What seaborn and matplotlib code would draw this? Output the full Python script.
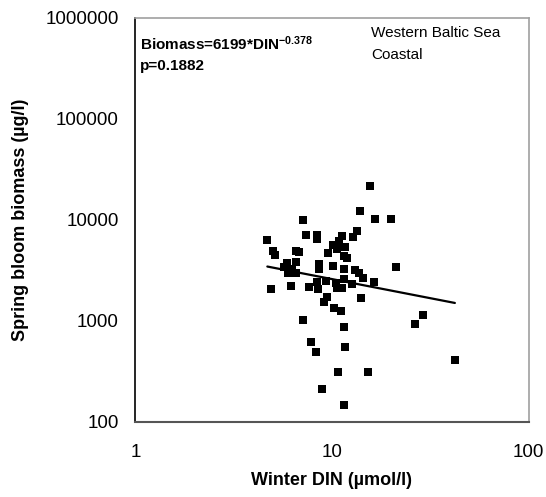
import numpy as np
import pandas as pd
import matplotlib
matplotlib.use("Agg")
import matplotlib.pyplot as plt
import matplotlib.ticker as mticker
import seaborn as sns

# Winter DIN (µmol/l) and spring bloom biomass (µg/l), Western Baltic Sea coastal stations
din = [4.69, 4.87, 5.03, 5.11, 5.71, 5.90, 5.97, 6.23, 6.58, 6.21,
       6.60, 6.76, 6.60, 7.11, 7.11, 7.39, 7.62, 7.84, 8.32, 8.37,
       8.37, 8.37, 8.54, 8.57, 8.57, 8.95, 9.16, 9.35, 9.46, 9.60,
       10.14, 10.14, 10.3, 10.66, 10.54, 10.63, 10.75, 10.83, 11.09, 11.24,
       11.24, 11.53, 11.89, 11.53, 11.53, 11.53, 11.53, 11.71, 11.71, 12.60,
       12.76, 13.16, 13.36, 13.79, 13.96, 14.12, 14.33, 15.20, 15.63, 16.30,
       16.57, 19.98, 21.13, 26.6, 28.9, 42.2]
biomass = [6340, 2060, 4970, 4470, 3425, 3730, 2990, 3250, 2970, 2240,
           4930, 4790, 3810, 9930, 1016, 7060, 2170, 612, 490, 7100,
           6440, 2450, 2060, 3665, 3250, 211, 1543, 2490, 1740, 4680,
           5620, 3480, 1345, 5160, 2360, 2100, 313, 6150, 1265, 6900,
           2130, 4350, 4205, 3270, 2575, 863, 146, 5370, 547, 2310,
           6840, 3200, 7690, 2970, 12360, 1690, 2650, 313, 21700, 2430,
           10160, 10160, 3400, 934, 1134, 414]

# Power-law fit: Biomass = a * DIN^b
fit_a = 6199
fit_b = -0.378
fit_p = 0.1882

x_ticks = [1, 10, 100]
y_ticks = [100, 1000, 10000, 100000, 1000000]

sns.set_style("white")
plt.rcParams["font.family"] = ["Liberation Sans", "DejaVu Sans"]
plt.rcParams["text.color"] = "black"
plt.rcParams["axes.labelcolor"] = "black"
plt.rcParams["mathtext.fontset"] = "custom"
plt.rcParams["mathtext.rm"] = "Liberation Sans:bold"
plt.rcParams["mathtext.bf"] = "Liberation Sans:bold"
plt.rcParams["mathtext.it"] = "Liberation Sans:bold"

fig = plt.figure(figsize=(5.46, 4.97), dpi=100)
ax = fig.add_axes([0.248, 0.151, 0.72, 0.813])

df = pd.DataFrame({"DIN": din, "Biomass": biomass})
sns.scatterplot(data=df, x="DIN", y="Biomass", ax=ax, marker="s", s=26,
                color="black", linewidth=0, zorder=3)

fit_x = np.geomspace(min(din), max(din), 50)
fit_df = pd.DataFrame({"DIN": fit_x, "Biomass": fit_a * fit_x ** fit_b})
sns.lineplot(data=fit_df, x="DIN", y="Biomass", ax=ax, color="black",
             linewidth=1.6, zorder=2)

ax.set_xscale("log")
ax.set_yscale("log")
ax.set_xlim(1, 100)
ax.set_ylim(100, 1000000)
ax.xaxis.set_major_locator(mticker.FixedLocator(x_ticks))
ax.yaxis.set_major_locator(mticker.FixedLocator(y_ticks))
ax.xaxis.set_minor_locator(mticker.NullLocator())
ax.yaxis.set_minor_locator(mticker.NullLocator())
fmt = mticker.FuncFormatter(lambda v, _: f"{v:.0f}")
ax.xaxis.set_major_formatter(fmt)
ax.yaxis.set_major_formatter(fmt)
ax.tick_params(axis="both", which="major", direction="out", length=6,
               width=1, labelsize=13.5, colors="black", pad=6)
ax.tick_params(axis="x", pad=10)

ax.spines["left"].set_color("black")
ax.spines["left"].set_linewidth(1.2)
ax.spines["bottom"].set_color("#555555")
ax.spines["bottom"].set_linewidth(1.5)
for side in ("top", "right"):
    ax.spines[side].set_color("#a0a0a0")
    ax.spines[side].set_linewidth(1.2)

ax.set_xlabel("Winter DIN (µmol/l)", fontsize=13, fontweight="bold", labelpad=8)
ax.set_ylabel("Spring bloom biomass (µg/l)", fontsize=13, fontweight="bold", labelpad=12)

ax.text(0.012, 0.935, f"Biomass={fit_a}*DIN$^{{{fit_b}}}$", transform=ax.transAxes,
        fontsize=11, fontweight="bold", ha="left", va="center")
ax.text(0.012, 0.88, f"p={fit_p}", transform=ax.transAxes,
        fontsize=11, fontweight="bold", ha="left", va="center")
ax.text(0.6, 0.962, "Western Baltic Sea", transform=ax.transAxes,
        fontsize=11, ha="left", va="center")
ax.text(0.6, 0.908, "Coastal", transform=ax.transAxes,
        fontsize=11, ha="left", va="center")

fig.savefig("out.png", dpi=100, facecolor="white")
